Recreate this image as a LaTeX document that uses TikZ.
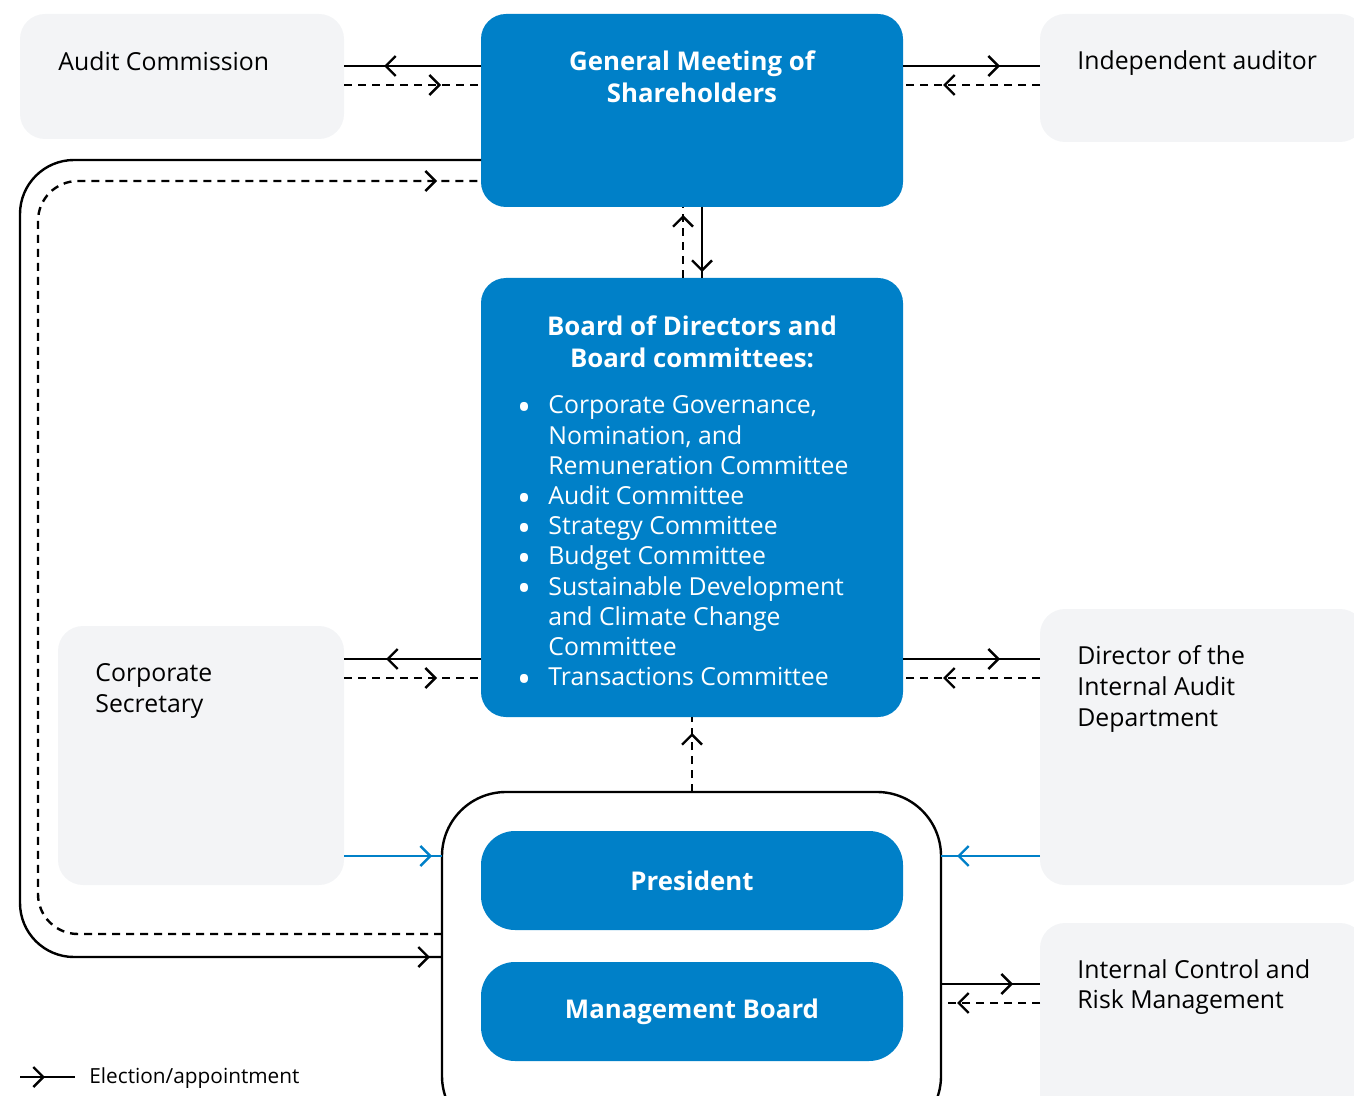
\documentclass[tikz,border=0pt]{standalone}
\usepackage{fontspec}
\setmainfont{Open Sans}
\usetikzlibrary{arrows.meta,decorations.markings}
\definecolor{ogblue}{HTML}{0080C8}
\definecolor{oggrey}{HTML}{F3F4F6}
\newcommand{\ogbullet}{\smash{\raisebox{-3.3pt}{\scalebox{1.5}{\textbullet}}}}
\tikzset{
  box-blue/.style={fill=ogblue,rounded corners=12.5pt,inner sep=0pt,outer sep=0pt,text=white,font=\fontsize{12.9pt}{16pt}\selectfont\bfseries},
  box-pill/.style={box-blue,rounded corners=17pt},
  box-grey/.style={fill=oggrey,rounded corners=12.5pt,inner sep=0pt,outer sep=0pt},
  box-mgmt/.style={draw=black,line width=1.2pt,fill=white,rounded corners=32pt,inner sep=0pt,outer sep=0pt},
  lbl/.style={inner sep=0pt,align=left,anchor=west},
  ttl/.style={inner sep=0pt,align=center,text=white,font=\fontsize{12.9pt}{16pt}\selectfont\bfseries},
  chev/.tip={Straight Barb[length=5pt,width=10pt]},
  conn/.style={line width=1.2pt,postaction={decorate},decoration={markings,mark=at position #1 with {\arrow{chev}}}},
  elect/.style={conn=#1,draw=black},
  acct/.style={conn=#1,draw=black,dash pattern=on 4pt off 3pt},
  inter/.style={conn=#1,draw=ogblue},
}

\begin{document}
\begin{tikzpicture}[x=0.5pt,y=-0.5pt,font=\fontsize{12.4pt}{15.4pt}\selectfont]

  \clip (0,0) rectangle (1354,1096);

  % boxes
  \node[box-grey,minimum width=162pt,minimum height=62.5pt] (audit) at (182,76.5) {};
  \node[box-blue,minimum width=211pt,minimum height=96.5pt] (gms) at (692,110.5) {};
  \node[box-grey,minimum width=162.5pt,minimum height=64pt] (indep) at (1202.5,78) {};
  \node[box-blue,minimum width=211pt,minimum height=219.5pt] (board) at (692,497.5) {};
  \node[box-grey,minimum width=143pt,minimum height=129.5pt] (corpsec) at (201,755.5) {};
  \node[box-grey,minimum width=162.5pt,minimum height=138pt] (dir) at (1202.5,747) {};
  \node[box-grey,minimum width=162.5pt,minimum height=103.5pt] (icrm) at (1202.5,1026.5) {};
  \node[box-mgmt,minimum width=249.5pt,minimum height=174pt] (mgmt) at (691.5,966) {};
  \node[box-pill,minimum width=211pt,minimum height=49.5pt] (pres) at (692,880.5) {President};
  \node[box-pill,minimum width=211pt,minimum height=49.5pt] (mb) at (692,1011.5) {Management Board};

  % texts
  \node[lbl] (audit-t) at (58,61) {Audit Commission};
  \node[lbl] (indep-t) at (1077,63) {Independent auditor};
  \node[lbl] (corpsec-t) at (95,691) {Corporate\\Secretary};
  \node[lbl] (dir-t) at (1077,689) {Director of the\\Internal Audit\\Department};
  \node[lbl] (icrm-t) at (1077,987) {Internal Control and\\Risk Management};
  \node[ttl] (gms-t) at (692,77) {General Meeting of\\Shareholders};
  \node[ttl] (board-t) at (692,342) {Board of Directors and\\Board committees:};
  \node[inner sep=0pt,anchor=base west,text=white,font=\fontsize{12.4pt}{15.1pt}\selectfont] (board-l) at (517,414) {%
    \begin{tabular}[t]{@{}p{15.5pt}@{}l@{}}
      \ogbullet & Corporate Governance,\\
                & Nomination, and\\
                & Remuneration Committee\\
      \ogbullet & Audit Committee\\
      \ogbullet & Strategy Committee\\
      \ogbullet & Budget Committee\\
      \ogbullet & Sustainable Development\\
                & and Climate Change\\
                & Committee\\
      \ogbullet & Transactions Committee
    \end{tabular}};

  % GMS links
  \draw[elect=-20pt] (gms.west |- 0,66) -- (audit.east |- 0,66);
  \draw[acct=-20pt] (audit.east |- 0,85) -- (gms.west |- 0,85);
  \draw[elect=-20pt] (gms.east |- 0,66) -- (indep.west |- 0,66);
  \draw[acct=-20pt] (indep.west |- 0,85) -- (gms.east |- 0,85);
  \draw[elect=-3pt] (gms.south -| 702,0) -- (board.north -| 702,0);
  \draw[acct=-4pt] (board.north -| 683,0) -- (gms.south -| 683,0);

  % loops round the left side
  \draw[elect=-6pt,rounded corners=27pt] (gms.west |- 0,160) -- (20,160) -- (20,957) -- (mgmt.west |- 0,957);
  \draw[acct=-22pt,rounded corners=20pt] (mgmt.west |- 0,934) -- (38,934) -- (38,181) -- (gms.west |- 0,181);

  % board links
  \draw[elect=-21pt] (board.west |- 0,659) -- (corpsec.east |- 0,659);
  \draw[acct=-22pt] (corpsec.east |- 0,678) -- (board.west |- 0,678);
  \draw[elect=-20pt] (board.east |- 0,659) -- (dir.west |- 0,659);
  \draw[acct=-20pt] (dir.west |- 0,678) -- (board.east |- 0,678);
  \draw[acct=-8pt] (mgmt.north -| board.south) -- (board.south);

  % executive bodies
  \draw[inter=-5pt] (corpsec.east |- 0,856) -- (mgmt.west |- 0,856);
  \draw[inter=-8pt] (dir.west |- 0,856) -- (mgmt.east |- 0,856);
  \draw[elect=-13.5pt] (mgmt.east |- 0,984) -- (icrm.west |- 0,984);
  \draw[acct=-8pt] (icrm.west |- 0,1003) -- (mgmt.east |- 0,1003);

  % legend
  \coordinate (leg-a) at (20,1077);
  \coordinate (leg-b) at (75,1077);
  \draw[elect=12.5pt] (leg-a) -- (leg-b);
  \node[lbl,font=\fontsize{10.4pt}{12pt}\selectfont] (leg-t) at (89,1078) {Election/appointment};

\end{tikzpicture}
\end{document}
